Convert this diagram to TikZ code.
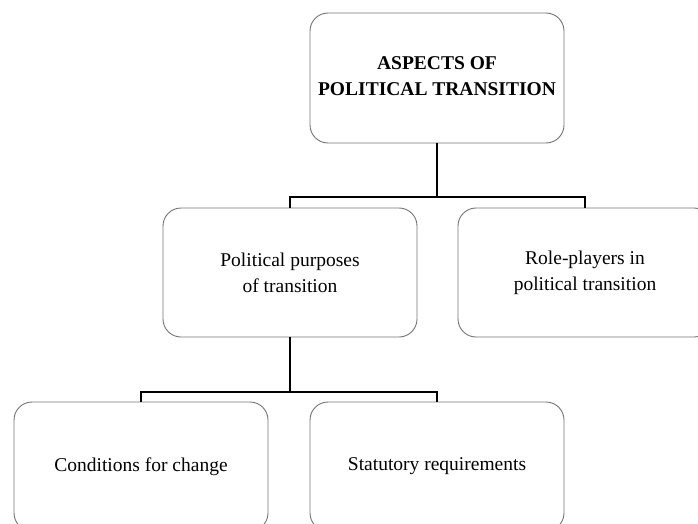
\documentclass[tikz,border=0pt]{standalone}
\usepackage{fontspec}
\setmainfont{Liberation Serif}
\begin{document}
\begin{tikzpicture}[x=1pt,y=-1pt,
  box/.style={draw=black!55,line width=0.9pt,rounded corners=18pt,
    minimum width=254pt,minimum height=129pt,inner sep=0pt,align=center,
    font=\fontsize{19.5}{26}\selectfont},
  conn/.style={draw=black,line width=2.8pt,line join=miter}]
\useasboundingbox (0,0) rectangle (698,524);
% boxes
\node[box,minimum height=130pt,text depth=3pt] (top) at (437,78) {\textbf{ASPECTS OF}\\\textbf{POLITICAL TRANSITION}};
\node[box] (purp) at (290,272.5) {Political purposes\\of transition};
\node[box] (role) at (585,272.5) {Role-players in\\political transition};
\node[box] (cond) at (141,466.5) {Conditions for change};
\node[box] (stat) at (437,466.5) {Statutory requirements};
% connectors
\coordinate (j1) at (437,197);
\coordinate (j2) at (290,392);
\draw[conn] (top.south) -- (j1);
\draw[conn] (purp.north) |- (j1) -| (role.north);
\draw[conn] (purp.south) -- (j2);
\draw[conn] (cond.north) |- (j2) -| (stat.north);
\end{tikzpicture}
\end{document}
